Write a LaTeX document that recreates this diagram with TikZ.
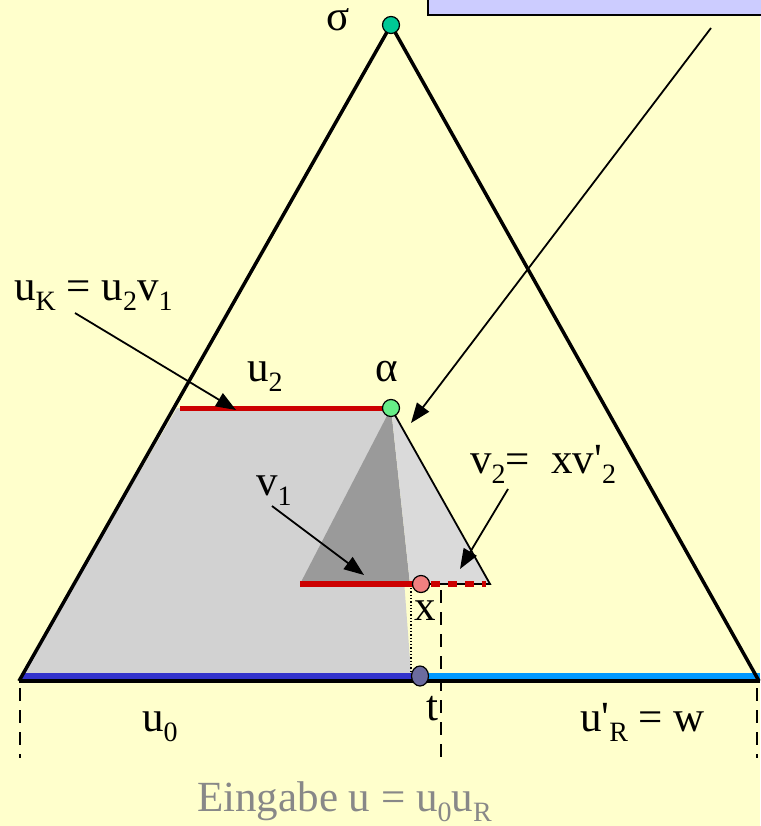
\documentclass[tikz,border=0pt]{standalone}
\usepackage{fontspec}
\setmainfont{Liberation Serif}
\usetikzlibrary{arrows.meta,shapes.geometric}
\definecolor{bgyellow}{HTML}{FFFFCC}
\definecolor{boxlav}{HTML}{CCCCFF}
\definecolor{redln}{HTML}{CC0000}
\definecolor{darkblue}{HTML}{3333CC}
\definecolor{lightblue}{HTML}{0099FF}
\definecolor{sigdot}{HTML}{00C896}
\definecolor{alphadot}{HTML}{66EE88}
\definecolor{xdot}{HTML}{F08080}
\definecolor{tdot}{HTML}{6B6B9E}
\definecolor{trapgray}{HTML}{D2D2D2}
\definecolor{darkgray}{HTML}{9A9A9A}
\definecolor{lightgr}{HTML}{DADADA}
\definecolor{labelgray}{HTML}{888888}
\newcommand\sbs[1]{\raisebox{-10pt}{\fontsize{28}{28}\selectfont #1}}
\tikzset{
  lbl/.style={anchor=base west,inner sep=0pt,font=\fontsize{43}{43}\selectfont},
  ptr/.style={-{Triangle[length=20pt,width=15pt]},line width=1.8pt},
  vdash/.style={dash pattern=on 13pt off 9pt,line width=1.6pt},
  dotnode/.style={circle,draw=black,line width=1.2pt,minimum size=17pt,inner sep=0pt},
}
\begin{document}
\begin{tikzpicture}[x=1pt,y=-1pt]
\useasboundingbox (0,0) rectangle (760,826);
\fill[bgyellow] (0,0) rectangle (760,826);
% box at top right
\draw[fill=boxlav,line width=1.5pt] (428,-5) rectangle (765,15);
% coordinates
\coordinate (sig) at (391,25);
\coordinate (L) at (19,681);
\coordinate (R) at (759,681);
\coordinate (al) at (391,408);
\coordinate (u2s) at (180,408);
\coordinate (trapL) at (177,408);
\coordinate (trapBL) at (22,673);
\coordinate (trapBR) at (411,673);
\coordinate (v1s) at (300,584);
\coordinate (mid) at (410,584);
\coordinate (xp) at (421,584);
\coordinate (tipR) at (490,584);
\coordinate (tp) at (420,676);
% shaded regions
\fill[trapgray] (trapL) -- (al) -- (trapBR) -- (trapBL) -- cycle;
\fill[darkgray] (al) -- (v1s) -- (mid) -- cycle;
\fill[lightgr] (al) -- (mid) -- (tipR) -- cycle;
\draw[line width=1.8pt] (al) -- (tipR) -- (xp);
% red lines
\draw[redln,line width=5pt] (u2s) -- (al);
\draw[redln,line width=6pt] (v1s) -- (xp);
\draw[redln,line width=6pt,dash pattern=on 9pt off 8pt] (431,584) -- (486,584);
% dotted and dashed verticals
\draw[dotted,line width=1.3pt] (411,588) -- (trapBR);
\coordinate (d1a) at (441,590); \coordinate (d1b) at (441,765);
\coordinate (d2a) at (20,688); \coordinate (d2b) at (20,758);
\coordinate (d3a) at (757,688); \coordinate (d3b) at (757,758);
\draw[vdash] (d1a) -- (d1b);
\draw[vdash] (d2a) -- (d2b);
\draw[vdash] (d3a) -- (d3b);
% base lines
\draw[darkblue,line width=6pt] (22,676) -- (tp);
\draw[lightblue,line width=6pt] (tp) -- (760,676);
\draw[line width=3.5pt] (L) -- (760,681);
% big triangle
\draw[line width=3.5pt,line join=miter] (L) -- (sig) -- (R);
% dots
\node[dotnode,fill=sigdot] (sigd) at (sig) {};
\node[dotnode,fill=alphadot] (ald) at (al) {};
\node[dotnode,fill=xdot] (xd) at (xp) {};
\node[ellipse,draw=black,line width=1.2pt,minimum width=17pt,minimum height=20pt,inner sep=0pt,fill=tdot] (td) at (tp) {};
% labels
\node[lbl,text height=20pt] (sigl) at (326,31) {σ};
\node[lbl] (uk) at (14,300) {u\sbs{K} = u\sbs{2}v\sbs{1}};
\node[lbl] (u2l) at (247,381) {u\sbs{2}};
\node[lbl] (all) at (375,381) {α};
\node[lbl] (v1l) at (256,495) {v\sbs{1}};
\node[lbl] (v2l) at (470,473) {v\sbs{2}= \ xv\textquotesingle\sbs{2}};
\node[lbl] (xl) at (414,620) {x};
\node[lbl] (u0l) at (142,731) {u\sbs{0}};
\node[lbl] (tl) at (426,720) {t};
\node[lbl] (url) at (580,731) {u\textquotesingle\sbs{R} = w};
\node[lbl,text=labelgray] (eing) at (197,811) {Eingabe u = u\sbs{0}u\sbs{R}};
% arrows
\coordinate (a1s) at (75,313); \coordinate (a1e) at (236,410);
\coordinate (a2s) at (272,506); \coordinate (a2e) at (364,575);
\coordinate (a3s) at (508,489); \coordinate (a3e) at (460,569);
\coordinate (a4s) at (711,28); \coordinate (a4e) at (411,423);
\draw[ptr] (a1s) -- (a1e);
\draw[ptr] (a2s) -- (a2e);
\draw[ptr] (a3s) -- (a3e);
\draw[ptr] (a4s) -- (a4e);
\end{tikzpicture}
\end{document}
